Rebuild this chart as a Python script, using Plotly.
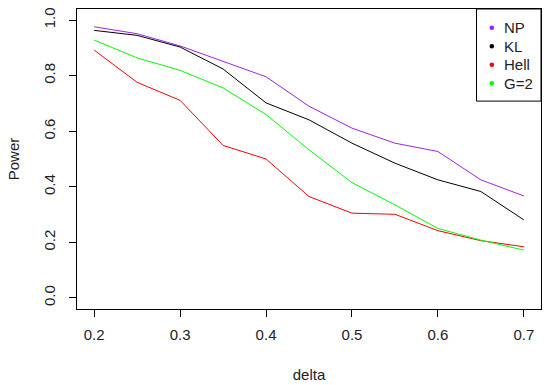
import plotly.graph_objects as go

delta = [0.20, 0.25, 0.30, 0.35, 0.40, 0.45, 0.50, 0.55, 0.60, 0.65, 0.70]
np_power = [0.976, 0.951, 0.907, 0.852, 0.796, 0.690, 0.611, 0.557, 0.527, 0.425, 0.367]
kl_power = [0.963, 0.945, 0.903, 0.824, 0.702, 0.641, 0.557, 0.485, 0.425, 0.383, 0.281]
hell_power = [0.892, 0.776, 0.711, 0.549, 0.500, 0.365, 0.305, 0.301, 0.242, 0.206, 0.184]
g2_power = [0.928, 0.864, 0.819, 0.756, 0.660, 0.533, 0.415, 0.335, 0.250, 0.208, 0.172]

series_names = ["NP", "KL", "Hell", "G=2"]
series_values = [np_power, kl_power, hell_power, g2_power]
series_colors = ["#A020F0", "#000000", "#FF0000", "#00FF00"]

x_ticks = [0.2, 0.3, 0.4, 0.5, 0.6, 0.7]
y_ticks = [0.0, 0.2, 0.4, 0.6, 0.8, 1.0]

fig = go.Figure()
for name, vals, col in zip(series_names, series_values, series_colors):
    fig.add_trace(go.Scatter(x=delta, y=vals, mode="lines", name=name,
                             line=dict(color=col, width=1), showlegend=False))

FONT = "Liberation Sans, Arial, sans-serif"
FS = 15

fig.update_layout(
    width=550, height=385,
    margin=dict(l=77, r=9, t=9, b=76),
    paper_bgcolor="white", plot_bgcolor="white",
    font=dict(family=FONT, size=FS, color="#222222"),
    xaxis=dict(range=[0.18, 0.72], tickvals=x_ticks, ticktext=[f"{v:.1f}" for v in x_ticks],
               showgrid=False, zeroline=False, showline=True, mirror=True,
               linecolor="black", linewidth=1, ticks="outside", ticklen=7,
               tickcolor="black", tickfont=dict(size=FS), automargin=False,
               ticklabelstandoff=5,
               title=dict(text="delta", font=dict(size=FS), standoff=27)),
    yaxis=dict(range=[-0.04, 1.04], tickvals=y_ticks, ticktext=[f"{v:.1f}" for v in y_ticks],
               showgrid=False, zeroline=False, showline=True, mirror=True,
               linecolor="black", linewidth=1, ticks="outside", ticklen=7,
               tickcolor="black", tickangle=-90, tickfont=dict(size=FS), automargin=False,
               ticklabelstandoff=8,
               title=dict(text="Power", font=dict(size=FS), standoff=17)),
)

# manual R-style legend (top-right box with dots)
fig.add_shape(type="rect", xref="paper", yref="paper", x0=0.861, x1=1.0, y0=0.693, y1=1.0,
              line=dict(color="black", width=1), fillcolor="white", layer="above")
row_px = [27.7, 46.2, 64.8, 83.3]
for name, col, py in zip(series_names, series_colors, row_px):
    yp = (309 - py) / 300
    fig.add_shape(type="circle", xref="paper", yref="paper",
                  xsizemode="pixel", ysizemode="pixel",
                  xanchor=0.894, yanchor=yp, x0=-2.3, x1=2.3, y0=-2.3, y1=2.3,
                  line=dict(color=col, width=0), fillcolor=col, layer="above")
    fig.add_annotation(xref="paper", yref="paper", x=0.918, y=yp, text=name,
                       showarrow=False, xanchor="left", yanchor="middle", borderpad=0,
                       font=dict(size=FS, color="#222222", family=FONT))

fig.write_html("out.html", config={"displayModeBar": False},
               post_script="document.body.style.margin='0';document.body.style.overflow='hidden';")
